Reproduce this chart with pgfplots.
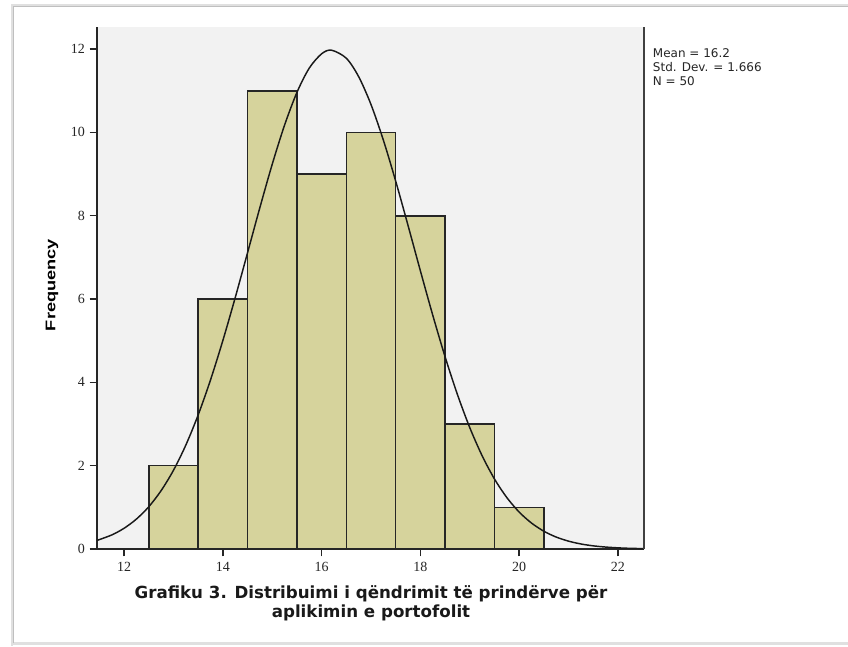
\documentclass[border=0pt]{standalone}
\usepackage{pgfplots}
\pgfplotsset{compat=1.18}
\usepackage{graphicx}
\usepackage{fontspec}
\setmainfont{Liberation Serif}
\newfontfamily\arialf{Liberation Sans}
\newfontfamily\dejaf{DejaVu Sans}
\definecolor{barfill}{RGB}{214,211,156}
\definecolor{axisgray}{RGB}{242,242,242}
\begin{document}
\begin{tikzpicture}
\useasboundingbox (0,0) rectangle (636pt,484.5pt);
\fill[white] (0,0) rectangle (636pt,484.5pt);
% outer frame with soft shadow
\draw[black!12, line width=2.2pt] (9pt,0pt) -- (9pt,480.5pt) -- (640pt,480.5pt);
\draw[black!12, line width=2.2pt] (9pt,2pt) -- (640pt,2pt);
\draw[black!25, line width=0.5pt] (10pt,2.6pt) -- (10pt,479.5pt) -- (640pt,479.5pt);
\begin{axis}[
  at={(72.75pt,72.75pt)}, anchor=south west,
  scale only axis, width=410.25pt, height=391.5pt,
  xmin=11.45, xmax=22.53, ymin=0, ymax=12.53,
  axis x line*=bottom, axis y line*=left,
  axis line style={black!85, line width=1pt},
  axis background/.style={fill=axisgray},
  xtick={12,14,16,18,20,22}, ytick={0,2,4,6,8,10,12},
  tick align=outside, major tick length=5.5pt,
  tick style={black!85, line width=1pt},
  /pgf/number format/assume math mode=true,
  ticklabel style={font=\fontsize{10.5}{12}\selectfont, text=black!85},
  xticklabel style={yshift=-1pt},
  clip=false,
]
\addplot[ybar interval, fill=barfill, draw=black!85, line width=1.2pt]
  coordinates {(12.5,2)(13.5,6)(14.5,11)(15.5,9)(16.5,10)(17.5,8)(18.5,3)(19.5,1)(20.5,1)};
\addplot[black!90, line width=1.1pt, smooth, no markers] coordinates {
(11.45,0.206)(11.75,0.338)(12.0,0.499)(12.25,0.720)(12.5,1.016)(12.75,1.403)
(13.0,1.892)(13.25,2.496)(13.5,3.220)(13.75,4.061)(14.0,5.007)(14.25,6.035)
(14.5,7.114)(14.75,8.198)(15.0,9.238)(15.25,10.177)(15.5,10.961)(15.75,11.544)
(16.0,11.887)(16.2,11.973)(16.5,11.780)(16.75,11.338)(17.0,10.669)(17.25,9.816)
(17.5,8.831)(17.75,7.767)(18.0,6.679)(18.25,5.616)(18.5,4.617)(18.75,3.711)
(19.0,2.916)(19.25,2.241)(19.5,1.683)(19.75,1.237)(20.0,0.888)(20.25,0.624)
(20.5,0.428)(20.75,0.287)(21.0,0.189)(21.25,0.121)(21.5,0.076)(21.75,0.047)
(22.0,0.028)(22.25,0.016)(22.53,0.009)};
\draw[black!75, line width=1pt] (rel axis cs:1,0) -- (rel axis cs:1,1);
\end{axis}
% y label
\node[rotate=90, font=\arialf\bfseries\fontsize{10.5}{12}\selectfont] at (39pt,270.75pt) {\scalebox{1.3}[1]{Frequency}};
% stats
\node[anchor=north west, align=left, inner sep=0pt, font=\dejaf\fontsize{9}{10.5}\selectfont, text=black!85] at (489.5pt,448.5pt) {Mean = 16.2\\Std. Dev. = 1.666\\N = 50};
% caption
\node[anchor=base, inner sep=0pt, font=\dejaf\bfseries\fontsize{12.5}{14}\selectfont, text=black!90] at (278.25pt,36pt) {Grafiku 3. Distribuimi i qëndrimit të prindërve për};
\node[anchor=base, inner sep=0pt, font=\dejaf\bfseries\fontsize{12.5}{14}\selectfont, text=black!90] at (278.25pt,21.75pt) {aplikimin e portofolit};
\end{tikzpicture}
\end{document}
